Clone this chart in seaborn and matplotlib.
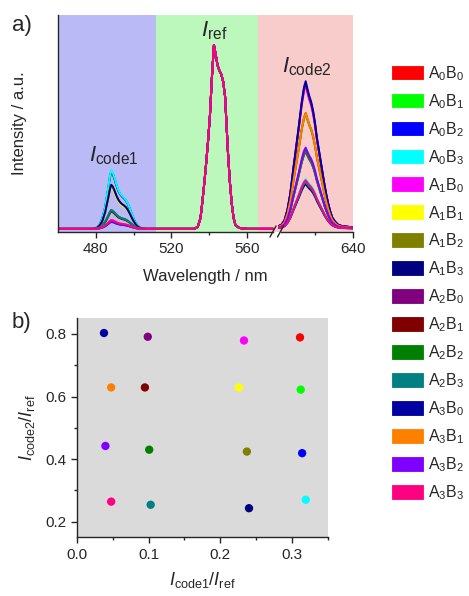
import matplotlib
matplotlib.use("Agg")
import matplotlib.pyplot as plt
from matplotlib.patches import Patch
from matplotlib.lines import Line2D
import pandas as pd
import seaborn as sns

sns.set_theme(style="ticks")
plt.rcParams["font.family"] = ["Liberation Sans", "DejaVu Sans"]
plt.rcParams["mathtext.fontset"] = "custom"
plt.rcParams["mathtext.rm"] = "Liberation Sans"
plt.rcParams["mathtext.it"] = "Liberation Sans:italic"

# samples, legend labels and colours (Origin palette)
SAMPLES = ["A0B0", "A0B1", "A0B2", "A0B3", "A1B0", "A1B1", "A1B2", "A1B3",
           "A2B0", "A2B1", "A2B2", "A2B3", "A3B0", "A3B1", "A3B2", "A3B3"]
LABELS = [r"A$_{%s}$B$_{%s}$" % (s[1], s[3]) for s in SAMPLES]
COLORS = ["#FF0000", "#00FF00", "#0000FF", "#00FFFF", "#FF00FF", "#FFFF00",
          "#808000", "#000080", "#800080", "#800000", "#008000", "#008080",
          "#0000A0", "#FF8000", "#8000FF", "#FF0080"]

# intensity ratios
RATIO_CODE1 = [0.311, 0.312, 0.314, 0.319, 0.233, 0.226, 0.237, 0.240,
               0.099, 0.095, 0.101, 0.103, 0.038, 0.048, 0.040, 0.048]
RATIO_CODE2 = [0.789, 0.622, 0.419, 0.270, 0.779, 0.629, 0.424, 0.243,
               0.791, 0.629, 0.430, 0.254, 0.803, 0.629, 0.442, 0.264]

# band profiles (normalised to peak = 1)
WL_CODE1 = [460, 476, 479, 480.5, 482, 483.5, 485, 486.5, 487.5, 488.2, 489, 490,
            491, 492, 493, 494, 495, 496, 497, 498, 499, 500, 501, 502, 503.5, 506, 511]
SHAPE_CODE1 = [0, 0, 0.0, 0.02, 0.07, 0.18, 0.38, 0.68, 0.90, 1.0, 0.96, 0.86,
               0.75, 0.66, 0.60, 0.56, 0.53, 0.49, 0.43, 0.35, 0.26, 0.18, 0.11, 0.06, 0.02, 0.0, 0]
WL_REF = [512, 528, 532, 534, 535.5, 536.5, 537.5, 538.5, 539.5, 540.5, 541.5, 542.6,
          543.5, 544.5, 545.5, 546.5, 547.5, 548.5, 549.3, 550, 551, 552, 553, 554, 556, 560, 574]
SHAPE_REF = [0, 0, 0.0, 0.01, 0.06, 0.15, 0.25, 0.36, 0.48, 0.62, 0.82, 1.0,
             0.95, 0.89, 0.86, 0.84, 0.80, 0.72, 0.56, 0.42, 0.26, 0.14, 0.06, 0.02, 0.005, 0, 0]
WL_CODE2 = [601, 602.5, 604, 605.5, 607, 608.5, 610, 611.5, 613, 614.2, 615.1, 616, 617,
            618, 619, 620, 621, 622, 623, 624, 625, 626, 627, 628, 629, 630.5, 632, 634, 637, 640]
SHAPE_CODE2 = [0.02, 0.03, 0.06, 0.13, 0.24, 0.40, 0.55, 0.70, 0.86, 0.96, 1.0, 0.95, 0.90,
               0.86, 0.80, 0.72, 0.62, 0.54, 0.46, 0.38, 0.30, 0.23, 0.17, 0.12, 0.08, 0.05,
               0.03, 0.02, 0.015, 0.01]

palette = dict(zip(SAMPLES, COLORS))

# long-form spectra: left part (code1 + ref), right part (code2)
rows_l, rows_r = [], []
for name, r1, r2 in zip(SAMPLES, RATIO_CODE1, RATIO_CODE2):
    for w, s in zip(WL_CODE1, SHAPE_CODE1):
        rows_l.append((name, w, r1 * s))
    for w, s in zip(WL_REF, SHAPE_REF):
        rows_l.append((name, w, s))
    for w, s in zip(WL_CODE2, SHAPE_CODE2):
        rows_r.append((name, w, r2 * s))
df_l = pd.DataFrame(rows_l, columns=["sample", "wl", "I"])
df_r = pd.DataFrame(rows_r, columns=["sample", "wl", "I"])
df_b = pd.DataFrame({"sample": SAMPLES, "x": RATIO_CODE1, "y": RATIO_CODE2})

W, H = 469, 596
fig = plt.figure(figsize=(W / 100, H / 100), dpi=100)
fig.patch.set_facecolor("white")

def fx(px):
    return px / W

def fy(py):
    return 1 - py / H

ax_l = fig.add_axes([fx(58), fy(232), fx(277 - 58), (232 - 15) / H])
ax_r = fig.add_axes([fx(277), fy(232), fx(353 - 277), (232 - 15) / H])
ax_b = fig.add_axes([fx(76.7), fy(537.3), fx(328 - 76.7), (537.3 - 318.3) / H])

# ---- panel a ----
ax_l.axvspan(460, 512, color="#BABAF7", lw=0, zorder=0)
ax_l.axvspan(512, 566, color="#BCF7BC", lw=0, zorder=0)
ax_l.axvspan(566, 576, color="#F9CCCC", lw=0, zorder=0)
ax_r.axvspan(600, 640, color="#F9CCCC", lw=0, zorder=0)

for ax, df in ((ax_l, df_l), (ax_r, df_r)):
    sns.lineplot(data=df, x="wl", y="I", hue="sample", hue_order=SAMPLES,
                 palette=palette, estimator=None, sort=False, lw=1.4,
                 legend=False, ax=ax)
    ax.set_ylim(-0.017, 1.163)
    ax.set_yticks([])
    ax.set_xlabel("")
    ax.set_ylabel("")
    ax.spines["top"].set_visible(False)
    ax.spines["right"].set_visible(False)
    ax.tick_params(axis="x", which="major", direction="out", length=4, width=1,
                   labelsize=11, pad=3, color="0.15")
    ax.tick_params(axis="x", which="minor", direction="out", length=2.5, width=1, color="0.15")

ax_l.set_xlim(460, 576)
ax_l.set_xticks([480, 520, 560])
ax_l.set_xticks([500, 540], minor=True)
ax_l.spines["bottom"].set_bounds(460, 574)
ax_r.set_xlim(600, 640)
ax_r.set_xticks([640])
ax_r.set_xticks([620], minor=True)
ax_r.spines["left"].set_visible(False)
ax_r.spines["bottom"].set_bounds(602, 640)

for sp in ("left", "bottom"):
    ax_l.spines[sp].set_linewidth(1.0)
    ax_l.spines[sp].set_color("0.15")
ax_r.spines["bottom"].set_linewidth(1.0)
ax_r.spines["bottom"].set_color("0.15")

# axis break marks
for x0 in (270, 277.5):
    fig.add_artist(Line2D([fx(x0), fx(x0 + 6)], [fy(237), fy(226)],
                          transform=fig.transFigure, color="0.15", lw=1.0))

ax_l.set_ylabel("Intensity / a.u.", fontsize=12)
ax_l.yaxis.set_label_coords(-0.14, 0.5)

ax_l.text(489.7, 0.40, r"$I_{\mathrm{code1}}$", fontsize=16, ha="center", va="center")
ax_l.text(542.5, 1.08, r"$I_{\mathrm{ref}}$", fontsize=16, ha="center", va="center")
ax_r.text(615.5, 0.88, r"$I_{\mathrm{code2}}$", fontsize=16, ha="center", va="center")

fig.text(fx(205.5), fy(277), "Wavelength / nm", ha="center", va="center", fontsize=12)
fig.text(fx(12), fy(25), "a)", ha="left", va="center", fontsize=16)
fig.text(fx(12), fy(322), "b)", ha="left", va="center", fontsize=16)

# ---- panel b ----
ax_b.set_facecolor("#DADADA")
sns.scatterplot(data=df_b, x="x", y="y", hue="sample", hue_order=SAMPLES,
                palette=palette, s=36, edgecolor="none", legend=False, ax=ax_b, zorder=3)
ax_b.set_xlim(0, 0.35)
ax_b.set_ylim(0.15, 0.85)
ax_b.set_xticks([0.0, 0.1, 0.2, 0.3])
ax_b.set_xticks([0.05, 0.15, 0.25, 0.35], minor=True)
ax_b.set_yticks([0.2, 0.4, 0.6, 0.8])
ax_b.set_yticks([0.3, 0.5, 0.7], minor=True)
ax_b.spines["top"].set_visible(False)
ax_b.spines["right"].set_visible(False)
for sp in ("left", "bottom"):
    ax_b.spines[sp].set_linewidth(1.0)
    ax_b.spines[sp].set_color("0.15")
ax_b.tick_params(which="major", direction="out", length=4, width=1, labelsize=11, color="0.15")
ax_b.tick_params(which="minor", direction="out", length=2.5, width=1, color="0.15")
ax_b.set_xlabel(r"$I_{\mathrm{code1}}/I_{\mathrm{ref}}$", fontsize=13, labelpad=6)
ax_b.set_ylabel(r"$I_{\mathrm{code2}}/I_{\mathrm{ref}}$", fontsize=13, labelpad=6)

# ---- legend ----
handles = [Patch(facecolor=c, edgecolor=c, lw=0.6, label=l) for c, l in zip(COLORS, LABELS)]
fig.legend(handles=handles, loc="upper left", bbox_to_anchor=(fx(392), fy(64)),
           frameon=False, fontsize=11.5, handlelength=1.95, handleheight=0.95,
           handletextpad=0.32, labelspacing=0.58, borderpad=0, borderaxespad=0)

fig.savefig("out.png", dpi=100)
